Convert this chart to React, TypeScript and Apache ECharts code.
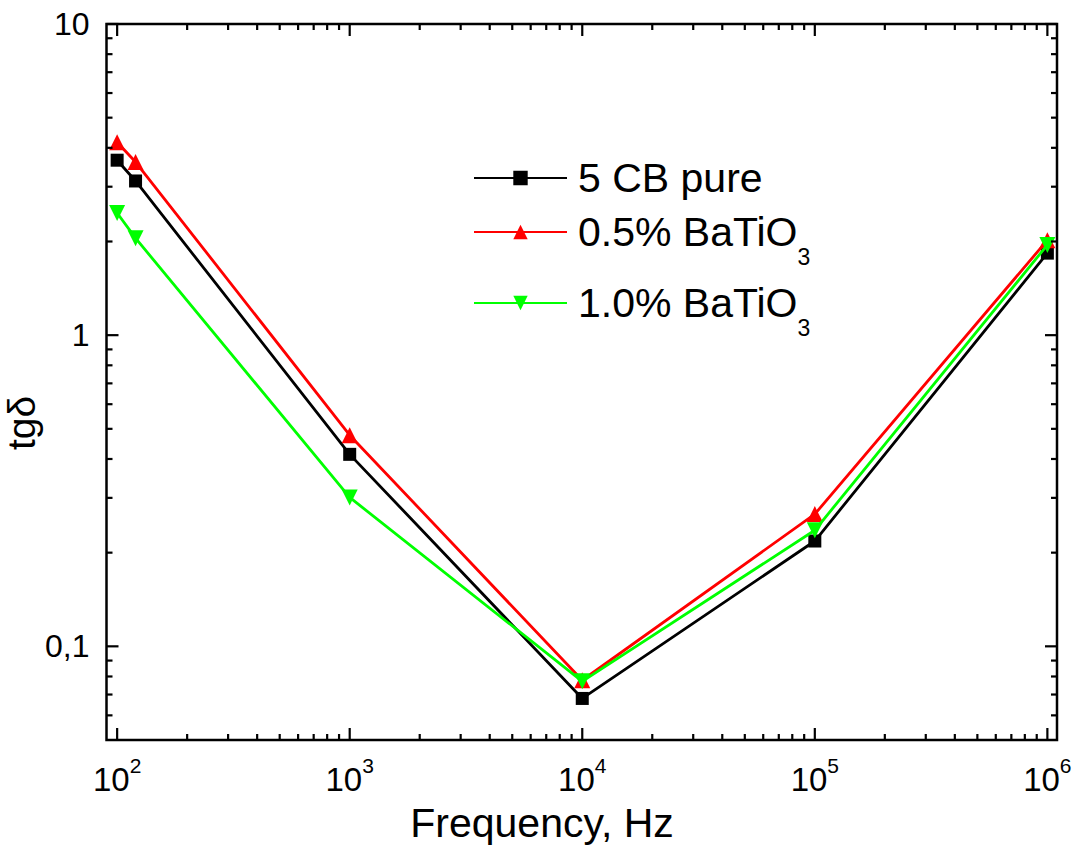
import React, { useEffect, useRef } from "react";
import * as echarts from "echarts";

const FONT = "'Liberation Sans', Arial, sans-serif";

const frequencies = [100, 120, 1000, 10000, 100000, 1000000];
const seriesNames = ["5 CB pure", "0.5% BaTiO3", "1.0% BaTiO3"];
const pureCB = [3.65, 3.13, 0.414, 0.068, 0.218, 1.835];
const batio05 = [4.17, 3.6, 0.477, 0.0778, 0.266, 2.02];
const batio10 = [2.47, 2.05, 0.301, 0.0772, 0.236, 1.95];
const seriesColors = ["#000000", "#ff0000", "#00ff00"];
const seriesSymbols = ["rect", "triangle", "triangle"];
const seriesRotate = [0, 0, 180];

const xMin = 90;
const xMax = 1.1e6;
const yMin = 0.05;
const yMax = 10;
const xDecades = [2, 3, 4, 5];
const yDecades = [-2, -1, 0];

function buildTicks() {
  const out: number[][] = [];
  xDecades.forEach((d) => {
    for (let m = 1; m <= 9; m++) {
      const v = m * Math.pow(10, d);
      if (v > xMin && v < xMax) out.push([v, 1, 0, m === 1 ? 1 : 0]);
    }
  });
  out.push([1e6, 1, 0, 1]);
  yDecades.forEach((d) => {
    for (let m = 1; m <= 9; m++) {
      const v = m * Math.pow(10, d);
      if (v > yMin && v < yMax) out.push([1000, v, 1, m === 1 ? 1 : 0]);
    }
  });
  out.push([1000, 10, 1, 1]);
  return out;
}

export default function App() {
  const ref = useRef<HTMLDivElement>(null);
  useEffect(() => {
    if (!ref.current) return;
    const chart = echarts.init(ref.current, null, { renderer: "svg" });
    const values = [pureCB, batio05, batio10];
    const lineSeries = seriesNames.map((name, i) => ({
      name,
      type: "line",
      data: frequencies.map((f, j) => [f, values[i][j]]),
      symbol: seriesSymbols[i],
      symbolRotate: seriesRotate[i],
      symbolSize: i === 0 ? 13 : 16,
      lineStyle: { color: seriesColors[i], width: 2.8 },
      itemStyle: { color: seriesColors[i] },
      z: 3 + i,
    }));
    const legendTops = [178 - 36, 232 - 36, 303 - 36];
    const legends = seriesNames.map((name, i) => ({
      data: [name],
      left: 473,
      top: legendTops[i],
      padding: 0,
      itemWidth: 93,
      itemHeight: 18,
      selectedMode: false,
      formatter: (n: string) => n.replace(/O3$/, "O{s|3}"),
      textStyle: {
        fontFamily: FONT,
        fontSize: 41,
        color: "#000",
        lineHeight: 72,
        padding: [0, 0, 0, 6],
        rich: {
          s: {
            fontFamily: FONT,
            fontSize: 23,
            color: "#000",
            lineHeight: 72,
            verticalAlign: "bottom",
          },
        },
      },
    }));
    const option = {
      animation: false,
      backgroundColor: "#fff",
      grid: {
        left: 106.5,
        right: 21,
        top: 24,
        bottom: 105,
        show: true,
        borderColor: "#000",
        borderWidth: 2.5,
        backgroundColor: "transparent",
      },
      legend: legends,
      xAxis: {
        type: "log",
        logBase: 10,
        min: xMin,
        max: xMax,
        axisLine: { show: false },
        axisTick: { show: false },
        splitLine: { show: false },
        minorTick: { show: false },
        axisLabel: {
          margin: 15,
          formatter: (v: number) => {
            const l = Math.log10(v);
            const e = Math.round(l);
            if (Math.abs(l - e) > 1e-6) return "";
            return `{b|10}{s|${e}}`;
          },
          rich: {
            b: { fontFamily: FONT, fontSize: 33, color: "#000", lineHeight: 48 },
            s: { fontFamily: FONT, fontSize: 21, color: "#000", lineHeight: 48, verticalAlign: "top" },
          },
        },
      },
      yAxis: {
        type: "log",
        logBase: 10,
        min: yMin,
        max: yMax,
        axisLine: { show: false },
        axisTick: { show: false },
        splitLine: { show: false },
        axisLabel: {
          margin: 17,
          fontFamily: FONT,
          fontSize: 32,
          color: "#000",
          formatter: (v: number) => {
            const l = Math.log10(v);
            const e = Math.round(l);
            if (Math.abs(l - e) > 1e-6) return "";
            if (e === 1) return "10";
            if (e === 0) return "1";
            if (e === -1) return "0,1";
            return "";
          },
        },
      },
      graphic: [
        {
          type: "text",
          x: 542,
          y: 823,
          style: {
            text: "Frequency, Hz",
            font: `41px ${FONT}`,
            fill: "#000",
            textAlign: "center",
            textVerticalAlign: "middle",
          },
        },
        {
          type: "text",
          x: 21,
          y: 423,
          rotation: Math.PI / 2,
          style: {
            text: "tgδ",
            font: `39px ${FONT}`,
            fill: "#000",
            textAlign: "center",
            textVerticalAlign: "middle",
          },
        },
      ],
      series: [
        ...lineSeries,
        {
          type: "custom",
          name: "ticks",
          silent: true,
          clip: false,
          z: 10,
          data: buildTicks(),
          renderItem: (params: any, api: any) => {
            const cs = params.coordSys;
            const kind = api.value(2);
            const len = api.value(3) ? 12 : 6;
            const st = { stroke: "#000", lineWidth: 2.2 };
            if (kind === 0) {
              const p = api.coord([api.value(0), 1]);
              const x = p[0];
              return {
                type: "group",
                children: [
                  { type: "line", shape: { x1: x, y1: cs.y + cs.height, x2: x, y2: cs.y + cs.height - len }, style: st },
                  { type: "line", shape: { x1: x, y1: cs.y, x2: x, y2: cs.y + len }, style: st },
                ],
              };
            }
            const p = api.coord([1000, api.value(1)]);
            const y = p[1];
            return {
              type: "group",
              children: [
                { type: "line", shape: { x1: cs.x, y1: y, x2: cs.x + len, y2: y }, style: st },
                { type: "line", shape: { x1: cs.x + cs.width, y1: y, x2: cs.x + cs.width - len, y2: y }, style: st },
              ],
            };
          },
        },
      ],
    };
    chart.setOption(option as any);
    return () => chart.dispose();
  }, []);
  return (
    <div
      ref={ref}
      style={{ position: "fixed", left: 0, top: 0, width: 1078, height: 845, background: "#fff" }}
    />
  );
}
